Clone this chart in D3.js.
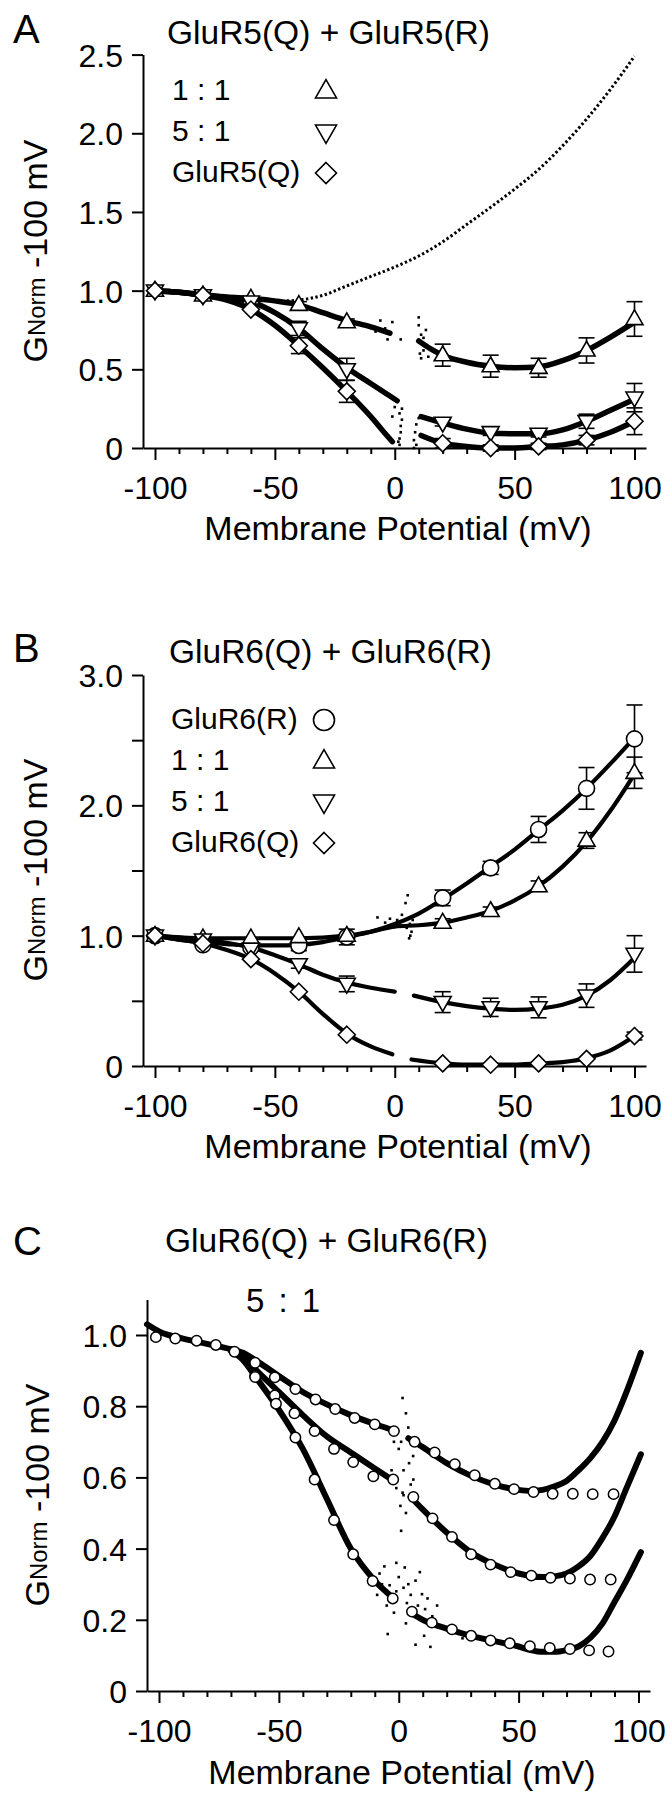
<!DOCTYPE html>
<html><head><meta charset="utf-8">
<script src="https://cdn.jsdelivr.net/npm/d3@7"></script>
<style>
body{margin:0;background:#fff}
svg{display:block}
text{font-family:"Liberation Sans",Arial,Helvetica,sans-serif;fill:#000}
</style>
</head><body>
<svg id="fig" width="672" height="1800"></svg>
<script>
// ---------------- DATA ----------------
const xMajor = [-100, -50, 0, 50, 100];
const xMinor = [-90, -80, -70, -60, -40, -30, -20, -10, 10, 20, 30, 40, 60, 70, 80, 90];

// Panel A : GluR5(Q) + GluR5(R)
const aTitle = "GluR5(Q) + GluR5(R)";
const aYTicks = [0, 0.5, 1.0, 1.5, 2.0, 2.5];
const aYLabels = ["0", "0.5", "1.0", "1.5", "2.0", "2.5"];
const aLegend = ["1 : 1", "5 : 1", "GluR5(Q)"];
const aVolt = [-100, -80, -60, -40, -20, 20, 40, 60, 80, 100];
const a11 = [1.0, 0.97, 0.95, 0.91, 0.80, 0.59, 0.52, 0.51, 0.62, 0.82];
const a11Err = [0, 0, 0, 0.02, 0.02, 0.07, 0.07, 0.06, 0.08, 0.11];
const a51 = [1.0, 0.97, 0.93, 0.76, 0.50, 0.16, 0.10, 0.09, 0.17, 0.32];
const a51Err = [0, 0, 0, 0.045, 0.07, 0.02, 0.02, 0.02, 0.045, 0.09];
const aQ = [1.0, 0.97, 0.88, 0.65, 0.36, 0.03, 0.0, 0.01, 0.05, 0.17];
const aQErr = [0, 0, 0, 0.05, 0.07, 0.03, 0.02, 0.02, 0.03, 0.085];
const aTr11Neg = [[-100,1.0],[-90,0.99],[-80,0.975],[-70,0.96],[-60,0.95],[-50,0.935],[-40,0.91],[-30,0.86],[-20,0.81],[-10,0.77],[-2,0.73]];
const aTr11Pos = [[10,0.68],[15,0.63],[20,0.59],[30,0.545],[40,0.52],[50,0.51],[60,0.515],[70,0.555],[80,0.62],[90,0.705],[100,0.80]];
const aTr51Neg = [[-100,1.0],[-90,0.99],[-80,0.97],[-70,0.955],[-60,0.93],[-50,0.86],[-40,0.76],[-30,0.63],[-20,0.51],[-10,0.41],[-3,0.34],[1,0.30]];
const aTr51Pos = [[11,0.20],[20,0.16],[30,0.12],[40,0.095],[50,0.09],[60,0.09],[70,0.115],[80,0.17],[90,0.24],[100,0.31]];
const aTrQNeg = [[-100,1.0],[-90,0.99],[-80,0.97],[-70,0.94],[-60,0.88],[-50,0.78],[-40,0.65],[-30,0.51],[-20,0.36],[-10,0.20],[-5,0.11],[-1,0.04]];
const aTrQPos = [[11,0.08],[20,0.03],[30,0.01],[40,0.0],[50,0.0],[60,0.01],[70,0.02],[80,0.05],[90,0.10],[100,0.17]];
const aDotted = [[-45,0.935],[-40,0.94],[-30,0.97],[-20,1.03],[-10,1.09],[0,1.15],[10,1.22],[20,1.31],[30,1.42],[40,1.53],[50,1.645],[60,1.77],[70,1.92],[80,2.09],[90,2.28],[100,2.49]];
const aNoise = [[2,0.02],[2,0.06],[2.5,0.10],[2.5,0.14],[3,0.18],[2,0.22],[3,0.25],[1.5,0.04],[8,0.0],[8,0.05],[8.5,0.10],[9,0.02],[9,0.15],[10,0.19],[2.5,0.69],[10,0.78],[10,0.83],[10.5,0.60],[11,0.57],[11,0.72],[12,0.70],[-1,0.80],[-3,0.69],[0,0.26],[-1,0.2],[-4,0.76],[-6,0.81],[-8,0.74],[12,0.62],[13,0.75],[14,0.58]];

// Panel B : GluR6(Q) + GluR6(R)
const bTitle = "GluR6(Q) + GluR6(R)";
const bYTicks = [0, 1.0, 2.0, 3.0];
const bYLabels = ["0", "1.0", "2.0", "3.0"];
const bYMinor = [0.5, 1.5, 2.5];
const bLegend = ["GluR6(R)", "1 : 1", "5 : 1", "GluR6(Q)"];
const bVolt = [-100, -80, -60, -40, -20, 20, 40, 60, 80, 100];
const bR = [1.0, 0.93, 0.91, 0.925, 0.99, 1.29, 1.52, 1.815, 2.13, 2.51];
const bRErr = [0.03, 0, 0, 0.04, 0.06, 0.06, 0.05, 0.10, 0.16, 0.26];
const b11 = [1.0, 0.98, 0.98, 0.99, 1.0, 1.10, 1.19, 1.38, 1.73, 2.25];
const b11Err = [0, 0, 0, 0, 0, 0.03, 0.03, 0.04, 0.06, 0.12];
const b51 = [1.0, 0.97, 0.90, 0.78, 0.63, 0.49, 0.45, 0.45, 0.54, 0.86];
const b51Err = [0, 0, 0, 0.03, 0.06, 0.08, 0.07, 0.08, 0.09, 0.14];
const bQ = [1.0, 0.94, 0.82, 0.57, 0.24, 0.02, 0.01, 0.02, 0.055, 0.23];
const bQErr = [0, 0, 0, 0, 0, 0, 0, 0, 0, 0.03];
const bTrR = [[-100,1.0],[-90,0.97],[-80,0.95],[-70,0.935],[-60,0.925],[-50,0.925],[-40,0.93],[-30,0.95],[-20,0.99],[-10,1.03],[0,1.09],[10,1.17],[20,1.28],[30,1.40],[40,1.53],[50,1.66],[60,1.81],[70,1.96],[80,2.13],[90,2.32],[100,2.52]];
const bTr11 = [[-100,1.0],[-80,0.98],[-60,0.98],[-40,0.98],[-20,1.0],[-10,1.03],[0,1.07],[10,1.08],[20,1.10],[30,1.14],[40,1.19],[50,1.27],[60,1.38],[70,1.53],[80,1.72],[90,1.96],[100,2.24]];
const bTr51Neg = [[-100,1.0],[-90,0.985],[-80,0.97],[-70,0.945],[-60,0.91],[-50,0.85],[-40,0.78],[-30,0.70],[-20,0.64],[-10,0.60],[0,0.57]];
const bTr51Pos = [[8,0.54],[20,0.49],[30,0.46],[40,0.44],[50,0.43],[60,0.44],[70,0.47],[80,0.54],[90,0.66],[100,0.83]];
const bTrQNeg = [[-100,1.0],[-90,0.97],[-80,0.94],[-70,0.89],[-60,0.82],[-50,0.71],[-40,0.57],[-30,0.40],[-20,0.25],[-10,0.15],[-1,0.09]];
const bTrQPos = [[7,0.05],[20,0.02],[30,0.01],[40,0.01],[50,0.01],[60,0.02],[70,0.03],[80,0.06],[90,0.12],[100,0.23]];
const bNoise = [[5.4,1.31],[4.5,1.25],[-7.2,1.14],[6.3,1.09],[7,1.03],[6.5,1.0],[7.5,1.12],[-4,1.10],[3,1.16],[5,1.06],[-2,1.13],[1,1.12],[6,0.98]];

// Panel C : GluR6(Q) + GluR6(R), 5 : 1
const cTitle = "GluR6(Q) + GluR6(R)";
const cSub = "5 : 1";
const cYTicks = [0, 0.2, 0.4, 0.6, 0.8, 1.0];
const cYLabels = ["0", "0.2", "0.4", "0.6", "0.8", "1.0"];
const cTrUpNeg = [[-105,1.03],[-100,1.01],[-90,0.99],[-80,0.975],[-70,0.96],[-65,0.95],[-60,0.93],[-50,0.885],[-40,0.84],[-30,0.805],[-20,0.775],[-10,0.75],[-1,0.73]];
const cTrUpPos = [[4,0.71],[10,0.685],[20,0.64],[30,0.605],[40,0.58],[50,0.565],[55,0.562],[60,0.565],[65,0.575],[70,0.59],[75,0.62],[80,0.655],[85,0.70],[90,0.76],[95,0.84],[101,0.95]];
const cTrMidNeg = [[-70,0.96],[-65,0.94],[-60,0.905],[-50,0.84],[-40,0.775],[-30,0.715],[-20,0.67],[-10,0.625],[-2,0.59]];
const cTrMidPos = [[5,0.545],[10,0.51],[20,0.445],[30,0.39],[40,0.355],[50,0.33],[60,0.32],[65,0.322],[70,0.33],[75,0.35],[80,0.38],[85,0.43],[90,0.49],[95,0.57],[101,0.665]];
const cTrLoNeg = [[-70,0.955],[-65,0.93],[-60,0.885],[-50,0.79],[-40,0.68],[-30,0.54],[-20,0.40],[-10,0.31],[-2,0.26]];
const cTrLoPos = [[5,0.22],[10,0.20],[20,0.175],[30,0.155],[40,0.14],[50,0.125],[55,0.115],[60,0.11],[65,0.11],[70,0.115],[75,0.125],[80,0.15],[85,0.19],[90,0.25],[95,0.31],[101,0.39]];
const cUpV = [-101.3,-93.2,-84.3,-76.3,-68.5,-59.9,-51.7,-43.1,-34.7,-26.5,-18.4,-10,-2,6.6,15,23.4,31.7,40.1,48.1,56.2,64.2,72.6,80.9,89.6];
const cUpG = [0.994,0.99,0.984,0.972,0.953,0.922,0.881,0.848,0.819,0.792,0.767,0.749,0.73,0.70,0.67,0.637,0.606,0.582,0.567,0.559,0.554,0.554,0.553,0.553];
const cMidV = [-59.9,-51.7,-43.5,-35.1,-27,-19,-10.6,-2.3,6.1,14.1,22.2,30.2,38.3,46.7,55.3,63.3,71.4,79.8,88.4];
const cMidG = [0.885,0.83,0.78,0.73,0.68,0.643,0.603,0.594,0.545,0.485,0.433,0.384,0.355,0.334,0.324,0.318,0.316,0.313,0.313];
const cLoV = [-59.9,-51.2,-43.1,-35.1,-27,-19,-10.9,-2.5,5.5,13.8,22.2,30.2,38.3,46.3,54.7,63,71.4,79.4,87.5];
const cLoG = [0.882,0.807,0.712,0.594,0.48,0.384,0.309,0.26,0.223,0.192,0.173,0.155,0.142,0.134,0.126,0.121,0.118,0.114,0.111];
const cNoise = [[1.6,0.823],[-4.6,0.16],[7,0.13],[13.2,0.124],[-1,0.36],[2.5,0.347],[8.8,0.334],[4.3,0.64],[0.7,0.52],[1.6,0.557],[6.1,0.594],[-3.8,0.297],[3.4,0.247],[9.7,0.272],[26.6,0.148],[10.6,0.155],[0,0.68],[2,0.62],[1,0.45],[-2,0.22],[4,0.30],[3,0.19],[6,0.66],[5,0.58],[-1,0.28],[8,0.24],[12,0.26],[1,0.70],[3,0.50],[-8,0.33],[-6,0.35],[-9,0.27],[-5,0.24],[-7,0.30],[0,0.32],[2,0.29],[5,0.27],[7,0.31],[11,0.23],[14,0.21],[16,0.24],[-3,0.62],[-1,0.57],[2,0.55],[3,0.78],[4,0.74],[-2,0.70]];

// ---------------- DRAWING ----------------
const svg = d3.select("#fig");
const line = d3.line().x(d => d[0]).y(d => d[1]).curve(d3.curveMonotoneX);

function triUpPath(s){ const h = s*0.87; return `M0,${-h*0.62}L${s/2},${h*0.38}L${-s/2},${h*0.38}Z`; }
function triDownPath(s){ const h = s*0.87; return `M0,${h*0.62}L${s/2},${-h*0.38}L${-s/2},${-h*0.38}Z`; }
function diamondPath(s){ return `M0,${-s/2}L${s/2},0L0,${s/2}L${-s/2},0Z`; }
function circlePath(s){ const r = s/2; return `M${r},0A${r},${r} 0 1,1 ${-r},0A${r},${r} 0 1,1 ${r},0Z`; }

function axes(g, x, y, yTicks, yLabels, yMinor){
  const y0 = y.range()[0];
  const ax = g.append("g").attr("transform", `translate(0,${y0})`)
    .call(d3.axisBottom(x).tickValues(xMajor).tickSize(12).tickSizeOuter(0).tickFormat(d => String(d)));
  ax.selectAll("text").attr("y", 51).attr("dy", null).attr("font-size", 32);
  const axm = g.append("g").attr("transform", `translate(0,${y0})`)
    .call(d3.axisBottom(x).tickValues(xMinor).tickSize(6).tickFormat(""));
  axm.select(".domain").remove();
  const ay = g.append("g").attr("transform", `translate(${x.range()[0]},0)`)
    .call(d3.axisLeft(y).tickValues(yTicks).tickSize(11).tickPadding(9).tickSizeOuter(0)
      .tickFormat((d,i) => yLabels[i]));
  ay.selectAll("text").attr("font-size", 32).attr("dy", "0.36em");
  if (yMinor){
    const aym = g.append("g").attr("transform", `translate(${x.range()[0]},0)`)
      .call(d3.axisLeft(y).tickValues(yMinor).tickSize(11).tickFormat(""));
    aym.select(".domain").remove();
  }
  g.selectAll(".domain, .tick line").attr("stroke", "#000").attr("stroke-width", 2);
}

function yLabel(g, cx, cy){
  const t = g.append("text").attr("transform", `translate(${cx},${cy}) rotate(-90)`)
    .attr("text-anchor", "middle").attr("font-size", 34);
  t.append("tspan").text("G");
  t.append("tspan").attr("font-size", 24).attr("dy", -2).text("Norm");
  t.append("tspan").attr("dy", 2).text(" -100 mV");
}
function xLabel(g, cx, by){
  g.append("text").attr("x", cx).attr("y", by).attr("text-anchor", "middle")
    .attr("font-size", 34).text("Membrane Potential (mV)");
}
function trace(g, x, y, pts, w){
  g.append("path").attr("d", line(pts.map(p => [x(p[0]), y(p[1])])))
    .attr("fill", "none").attr("stroke", "#000").attr("stroke-width", w)
    .attr("stroke-linejoin", "round").attr("stroke-linecap", "round");
}
function noise(g, x, y, pts){
  g.selectAll(null).data(pts).enter().append("rect")
    .attr("x", d => x(d[0]) - 1.3).attr("y", d => y(d[1]) - 1.3)
    .attr("width", 2.6).attr("height", 2.6).attr("fill", "#000");
}
function series(g, x, y, volts, vals, errs, shape, size){
  const eg = g.append("g").attr("stroke", "#000").attr("stroke-width", 1.6);
  volts.forEach((v, i) => {
    const e = errs ? errs[i] : 0;
    if (e > 0){
      const cx = x(v), y1 = y(vals[i] - e), y2 = y(vals[i] + e);
      eg.append("line").attr("x1", cx).attr("x2", cx).attr("y1", y1).attr("y2", y2);
      eg.append("line").attr("x1", cx - 8).attr("x2", cx + 8).attr("y1", y1).attr("y2", y1);
      eg.append("line").attr("x1", cx - 8).attr("x2", cx + 8).attr("y1", y2).attr("y2", y2);
    }
  });
  g.selectAll(null).data(volts).enter().append("path")
    .attr("transform", (v, i) => `translate(${x(v)},${y(vals[i])})`)
    .attr("d", shape(size)).attr("fill", "#fff").attr("stroke", "#000").attr("stroke-width", 1.6);
}
function legend(g, items, shapes, tx, mx, baselines){
  items.forEach((lab, i) => {
    g.append("text").attr("x", tx).attr("y", baselines[i]).attr("font-size", 30).text(lab);
    g.append("path").attr("transform", `translate(${mx},${baselines[i] - 9})`)
      .attr("d", shapes[i](21)).attr("fill", "#fff").attr("stroke", "#000").attr("stroke-width", 1.6);
  });
}
function title(g, txt, x0, by){
  g.append("text").attr("x", x0).attr("y", by).attr("font-size", 33.5).text(txt);
}
function letter(g, txt, by){
  g.append("text").attr("x", 13).attr("y", by).attr("font-size", 40).text(txt);
}

// ----- Panel A -----
{
  const g = svg.append("g");
  const x = d3.scaleLinear().domain([-105, 104.8]).range([143, 646]);
  const y = d3.scaleLinear().domain([0, 2.5]).range([448, 54.6]);
  letter(g, "A", 43);
  title(g, aTitle, 167, 44);
  axes(g, x, y, aYTicks, aYLabels, null);
  yLabel(g, 47, 251);
  xLabel(g, 398, 540);
  legend(g, aLegend, [triUpPath, triDownPath, diamondPath], 172, 326, [100, 141, 182]);
  g.append("path").attr("d", line(aDotted.map(p => [x(p[0]), y(p[1])])))
    .attr("fill", "none").attr("stroke", "#000").attr("stroke-width", 3).attr("stroke-dasharray", "2.4,2.4");
  [aTr11Neg, aTr11Pos, aTr51Neg, aTr51Pos, aTrQNeg, aTrQPos].forEach(t => trace(g, x, y, t, 5.5));
  noise(g, x, y, aNoise);
  series(g, x, y, aVolt, a11, a11Err, triUpPath, 17);
  series(g, x, y, aVolt, a51, a51Err, triDownPath, 17);
  series(g, x, y, aVolt, aQ, aQErr, diamondPath, 17);
}

// ----- Panel B -----
{
  const g = svg.append("g");
  const x = d3.scaleLinear().domain([-105, 104.8]).range([143, 646]);
  const y = d3.scaleLinear().domain([0, 3]).range([1066, 675]);
  letter(g, "B", 662);
  title(g, bTitle, 169, 663);
  axes(g, x, y, bYTicks, bYLabels, bYMinor);
  yLabel(g, 47, 870);
  xLabel(g, 398, 1158);
  legend(g, bLegend, [circlePath, triUpPath, triDownPath, diamondPath], 171, 324, [729, 770, 811, 852]);
  [bTrR, bTr11, bTr51Neg, bTr51Pos, bTrQNeg, bTrQPos].forEach(t => trace(g, x, y, t, 4.2));
  noise(g, x, y, bNoise);
  series(g, x, y, bVolt, bR, bRErr, circlePath, 16);
  series(g, x, y, bVolt, b11, b11Err, triUpPath, 17);
  series(g, x, y, bVolt, b51, b51Err, triDownPath, 17);
  series(g, x, y, bVolt, bQ, bQErr, diamondPath, 17);
}

// ----- Panel C -----
{
  const g = svg.append("g");
  const x = d3.scaleLinear().domain([-105, 104.8]).range([147, 650]);
  const y = d3.scaleLinear().domain([0, 1.1]).range([1691, 1299.4]);
  letter(g, "C", 1255);
  title(g, cTitle, 165, 1252);
  g.append("text").attr("x", 246).attr("y", 1312).attr("font-size", 33)
    .attr("word-spacing", 5).text(cSub);
  axes(g, x, y, cYTicks, cYLabels, null);
  yLabel(g, 49, 1495);
  xLabel(g, 402, 1784);
  [cTrUpNeg, cTrUpPos, cTrMidNeg, cTrMidPos, cTrLoNeg, cTrLoPos].forEach(t => trace(g, x, y, t, 6));
  noise(g, x, y, cNoise);
  const cg = g.append("g");
  [[cUpV, cUpG], [cMidV, cMidG], [cLoV, cLoG]].forEach(([vs, gs]) => {
    cg.selectAll(null).data(vs).enter().append("circle")
      .attr("cx", v => x(v)).attr("cy", (v, i) => y(gs[i])).attr("r", 5.2)
      .attr("fill", "#fff").attr("stroke", "#000").attr("stroke-width", 1.5);
  });
}
</script>
</body></html>
